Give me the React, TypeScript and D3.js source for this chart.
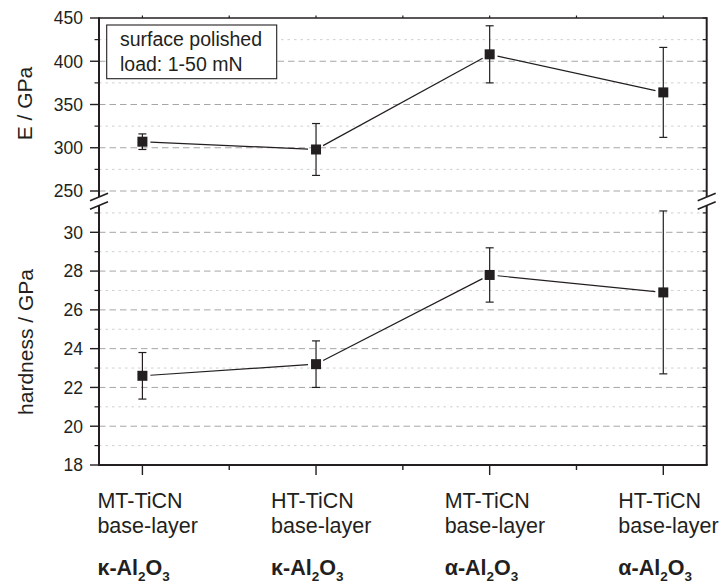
import React from "react";
import * as d3 from "d3";

const categories = [1, 2, 3, 4];
const catLine1 = ["MT-TiCN", "HT-TiCN", "MT-TiCN", "HT-TiCN"];
const catLine2 = ["base-layer", "base-layer", "base-layer", "base-layer"];
const phaseGreek = ["κ", "κ", "α", "α"];

const modulus = [307, 298, 408, 364];
const modulusErr = [9, 30, 33, 52];
const hardness = [22.6, 23.2, 27.8, 26.9];
const hardnessErr = [1.2, 1.2, 1.4, 4.2];

const topMajor = [250, 300, 350, 400, 450];
const topMinor = [275, 325, 375, 425];
const botMajor = [18, 20, 22, 24, 26, 28, 30];
const botMinor = [19, 21, 23, 25, 27, 29, 31];

const W = 723;
const H = 584;
const FONT = "'Liberation Sans', Arial, Helvetica, sans-serif";
const INK = "#231f20";

export default function App() {
  const x = d3.scaleLinear().domain([0.75, 4.25]).range([99, 706.7]);
  const yTop = d3.scaleLinear().domain([250, 450]).range([191, 18]);
  const yBot = d3.scaleLinear().domain([18, 30]).range([465, 232.3]);
  const L = x(0.75);
  const R = x(4.25);
  const topPanelBottom = 197;
  const botPanelTop = 205.5;
  const yB = yBot(18);
  const yT = yTop(450);

  const series = [
    { y: yTop, vals: modulus, errs: modulusErr },
    { y: yBot, vals: hardness, errs: hardnessErr },
  ];

  const gap = 8;
  const segs: JSX.Element[] = [];
  series.forEach((s, si) => {
    for (let i = 0; i < s.vals.length - 1; i++) {
      const x1 = x(categories[i]);
      const y1 = s.y(s.vals[i]);
      const x2 = x(categories[i + 1]);
      const y2 = s.y(s.vals[i + 1]);
      const d = Math.hypot(x2 - x1, y2 - y1);
      const ux = (x2 - x1) / d;
      const uy = (y2 - y1) / d;
      segs.push(
        <line
          key={`seg${si}-${i}`}
          x1={x1 + ux * gap}
          y1={y1 + uy * gap}
          x2={x2 - ux * gap}
          y2={y2 - uy * gap}
          stroke={INK}
          strokeWidth={1.2}
        />
      );
    }
  });

  const breakMarks = (cx: number) => (
    <g stroke={INK} strokeWidth={1.6}>
      <line x1={cx - 9} y1={200.8} x2={cx + 9} y2={193.3} />
      <line x1={cx - 9} y1={209.3} x2={cx + 9} y2={201.7} />
    </g>
  );

  return (
    <svg
      width={W}
      height={H}
      style={{ position: "absolute", left: 0, top: 0, background: "#fff" }}
      fontFamily={FONT}
    >
      <rect x={0} y={0} width={W} height={H} fill="#fff" />
      {/* grid */}
      {topMajor
        .filter((v) => v < 450)
        .map((v) => (
          <line key={`tg${v}`} x1={L} x2={R} y1={yTop(v)} y2={yTop(v)} stroke="#a6a6a6" strokeWidth={1} strokeDasharray="6.5,4" />
        ))}
      {topMinor.map((v) => (
        <line key={`tm${v}`} x1={L} x2={R} y1={yTop(v)} y2={yTop(v)} stroke="#cfcfcf" strokeWidth={1} strokeDasharray="2.5,4" />
      ))}
      {botMajor
        .filter((v) => v > 18)
        .map((v) => (
          <line key={`bg${v}`} x1={L} x2={R} y1={yBot(v)} y2={yBot(v)} stroke="#a6a6a6" strokeWidth={1} strokeDasharray="6.5,4" />
        ))}
      {botMinor.map((v) => (
        <line key={`bm${v}`} x1={L} x2={R} y1={yBot(v)} y2={yBot(v)} stroke="#cfcfcf" strokeWidth={1} strokeDasharray="2.5,4" />
      ))}

      {/* frame */}
      <line x1={L} x2={R} y1={yT} y2={yT} stroke={INK} strokeWidth={1.6} />
      <line x1={L - 1} x2={R + 1} y1={yB} y2={yB} stroke={INK} strokeWidth={2} />
      <line x1={L} x2={L} y1={yT - 0.8} y2={topPanelBottom} stroke={INK} strokeWidth={2} />
      <line x1={L} x2={L} y1={botPanelTop} y2={yB} stroke={INK} strokeWidth={2} />
      <line x1={R} x2={R} y1={yT - 0.8} y2={topPanelBottom} stroke={INK} strokeWidth={2} />
      <line x1={R} x2={R} y1={botPanelTop} y2={yB} stroke={INK} strokeWidth={2} />
      {breakMarks(L)}
      {breakMarks(R)}

      {/* left ticks */}
      {topMajor.map((v) => (
        <g key={`tl${v}`}>
          <line x1={L - 9} x2={L} y1={yTop(v)} y2={yTop(v)} stroke={INK} strokeWidth={1.4} />
          <text x={83} y={yTop(v)} dy="0.36em" textAnchor="end" fontSize={17.5} fill={INK}>
            {v}
          </text>
          <line x1={R - 4} x2={R} y1={yTop(v)} y2={yTop(v)} stroke={INK} strokeWidth={1.2} />
        </g>
      ))}
      {topMinor.map((v) => (
        <g key={`tn${v}`}>
          <line x1={L - 4.5} x2={L} y1={yTop(v)} y2={yTop(v)} stroke={INK} strokeWidth={1.2} />
          <line x1={R - 4} x2={R} y1={yTop(v)} y2={yTop(v)} stroke={INK} strokeWidth={1.2} />
        </g>
      ))}
      {botMajor.map((v) => (
        <g key={`bl${v}`}>
          <line x1={L - 9} x2={L} y1={yBot(v)} y2={yBot(v)} stroke={INK} strokeWidth={1.4} />
          <text x={83} y={yBot(v)} dy="0.36em" textAnchor="end" fontSize={17.5} fill={INK}>
            {v}
          </text>
          <line x1={R - 4} x2={R} y1={yBot(v)} y2={yBot(v)} stroke={INK} strokeWidth={1.2} />
        </g>
      ))}
      {botMinor.map((v) => (
        <g key={`bn${v}`}>
          <line x1={L - 4.5} x2={L} y1={yBot(v)} y2={yBot(v)} stroke={INK} strokeWidth={1.2} />
          <line x1={R - 4} x2={R} y1={yBot(v)} y2={yBot(v)} stroke={INK} strokeWidth={1.2} />
        </g>
      ))}

      {/* x ticks */}
      {categories.map((c) => (
        <g key={`xt${c}`}>
          <line x1={x(c)} x2={x(c)} y1={yB} y2={yB + 10} stroke={INK} strokeWidth={1.4} />
          <line x1={x(c)} x2={x(c)} y1={yT} y2={yT - 2.5} stroke={INK} strokeWidth={1.2} />
        </g>
      ))}
      {categories.slice(0, 3).map((c) => (
        <g key={`xm${c}`}>
          <line x1={x(c + 0.5)} x2={x(c + 0.5)} y1={yB} y2={yB + 5} stroke={INK} strokeWidth={1.4} />
          <line x1={x(c + 0.5)} x2={x(c + 0.5)} y1={yT} y2={yT - 2.5} stroke={INK} strokeWidth={1.2} />
        </g>
      ))}

      {/* x labels */}
      {categories.map((c, i) => (
        <g key={`xl${c}`} fill={INK}>
          <text x={x(c) - 45} y={508.3} fontSize={21.5}>
            {catLine1[i]}
          </text>
          <text x={x(c) - 45} y={533.3} fontSize={21.5}>
            {catLine2[i]}
          </text>
          <text x={x(c) - 45} y={574.5} fontSize={21.5} fontWeight="bold">
            {phaseGreek[i]}-Al
            <tspan dy={6} fontSize={13.5}>2</tspan>
            <tspan dy={-6} fontSize={21.5}>O</tspan>
            <tspan dy={6} fontSize={13.5}>3</tspan>
          </text>
        </g>
      ))}

      {/* y axis titles */}
      <text transform={`translate(31.5,103.5) rotate(-90)`} textAnchor="middle" fontSize={21} fill={INK}>
        E / GPa
      </text>
      <text transform={`translate(33,342) rotate(-90)`} textAnchor="middle" fontSize={21} fill={INK}>
        hardness / GPa
      </text>

      {/* legend box */}
      <rect x={106.7} y={25} width={170} height={53.7} fill="#fff" stroke={INK} strokeWidth={1.1} />
      <text x={120} y={46} fontSize={19.5} fill={INK}>
        surface polished
      </text>
      <text x={120} y={71} fontSize={19.5} fill={INK}>
        load: 1-50 mN
      </text>

      {/* lines */}
      {segs}

      {/* error bars + markers */}
      {series.map((s, si) =>
        s.vals.map((v, i) => {
          const cx = x(categories[i]);
          const yHi = s.y(v + s.errs[i]);
          const yLo = s.y(v - s.errs[i]);
          const cy = s.y(v);
          return (
            <g key={`pt${si}-${i}`}>
              <line x1={cx} x2={cx} y1={yHi} y2={yLo} stroke={INK} strokeWidth={1.2} />
              <line x1={cx - 4} x2={cx + 4} y1={yHi} y2={yHi} stroke={INK} strokeWidth={1.2} />
              <line x1={cx - 4} x2={cx + 4} y1={yLo} y2={yLo} stroke={INK} strokeWidth={1.2} />
              <rect x={cx - 5} y={cy - 5} width={10} height={10} fill={INK} />
            </g>
          );
        })
      )}
    </svg>
  );
}
